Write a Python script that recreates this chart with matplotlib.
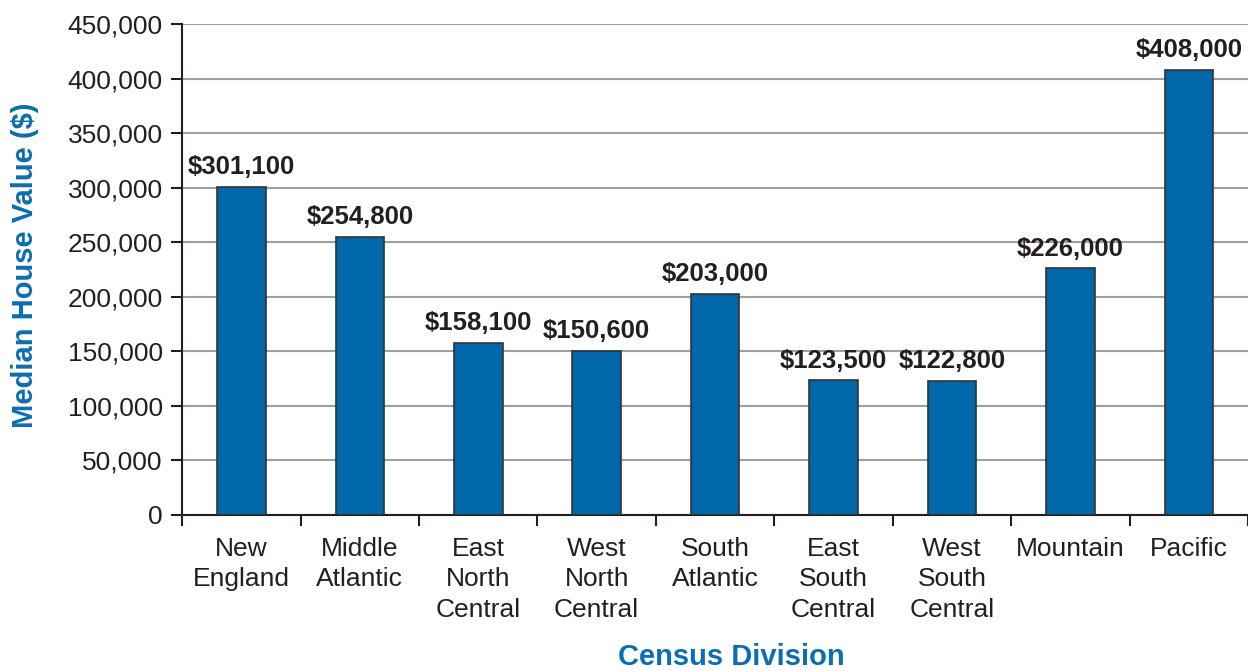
import numpy as np
import matplotlib.pyplot as plt
from matplotlib.ticker import FuncFormatter, FixedLocator

divisions = ['New\nEngland', 'Middle\nAtlantic', 'East\nNorth\nCentral', 'West\nNorth\nCentral',
             'South\nAtlantic', 'East\nSouth\nCentral', 'West\nSouth\nCentral', 'Mountain', 'Pacific']
values = [301100, 254800, 158100, 150600, 203000, 123500, 122800, 226000, 408000]
yticks = [0, 50000, 100000, 150000, 200000, 250000, 300000, 350000, 400000, 450000]

plt.rcParams['font.family'] = ['Liberation Sans', 'DejaVu Sans']
bar_color = '#0068aa'
title_color = '#0b6eb0'

fig = plt.figure(figsize=(12.48, 6.71), dpi=100)
ax = fig.add_axes([0.146, 0.2325, 0.854, 0.7315])

x = np.arange(len(values))
ax.bar(x, values, width=0.41, color=bar_color, edgecolor='#333333', linewidth=1.2, zorder=3)

for xi, v in zip(x, values):
    ax.text(xi, v + 7000, '${:,}'.format(v), ha='center', va='bottom',
            fontsize=18.5, fontweight='bold', color='#231f20')

ax.set_xlim(-0.5, len(values) - 0.5)
ax.set_ylim(0, 450000)
ax.set_yticks(yticks)
ax.yaxis.set_major_formatter(FuncFormatter(lambda v, p: '{:,}'.format(int(v))))
ax.yaxis.grid(True, color='#a0a0a0', linewidth=1.5, zorder=0)

ax.set_xticks(x)
ax.set_xticklabels(divisions, fontsize=19, color='#231f20', linespacing=1.33)
ax.tick_params(axis='x', which='major', length=0, pad=16)
ax.xaxis.set_minor_locator(FixedLocator(np.arange(-0.5, len(values), 1.0)))
ax.tick_params(axis='x', which='minor', length=8, width=1.5, direction='out', color='#231f20')
ax.tick_params(axis='y', length=8, width=1.5, direction='out', color='#231f20',
               labelsize=19, labelcolor='#231f20', pad=6)

for s in ['top', 'right']:
    ax.spines[s].set_visible(False)
for s in ['left', 'bottom']:
    ax.spines[s].set_linewidth(1.5)
    ax.spines[s].set_color('#231f20')

fig.text(0.02, 0.605, 'Median House Value ($)', rotation=90, ha='center', va='center',
         fontsize=21, fontweight='bold', color=title_color)
fig.text(0.586, 0.021, 'Census Division', ha='center', va='center',
         fontsize=21, fontweight='bold', color=title_color)

fig.savefig('out.png', dpi=100)
